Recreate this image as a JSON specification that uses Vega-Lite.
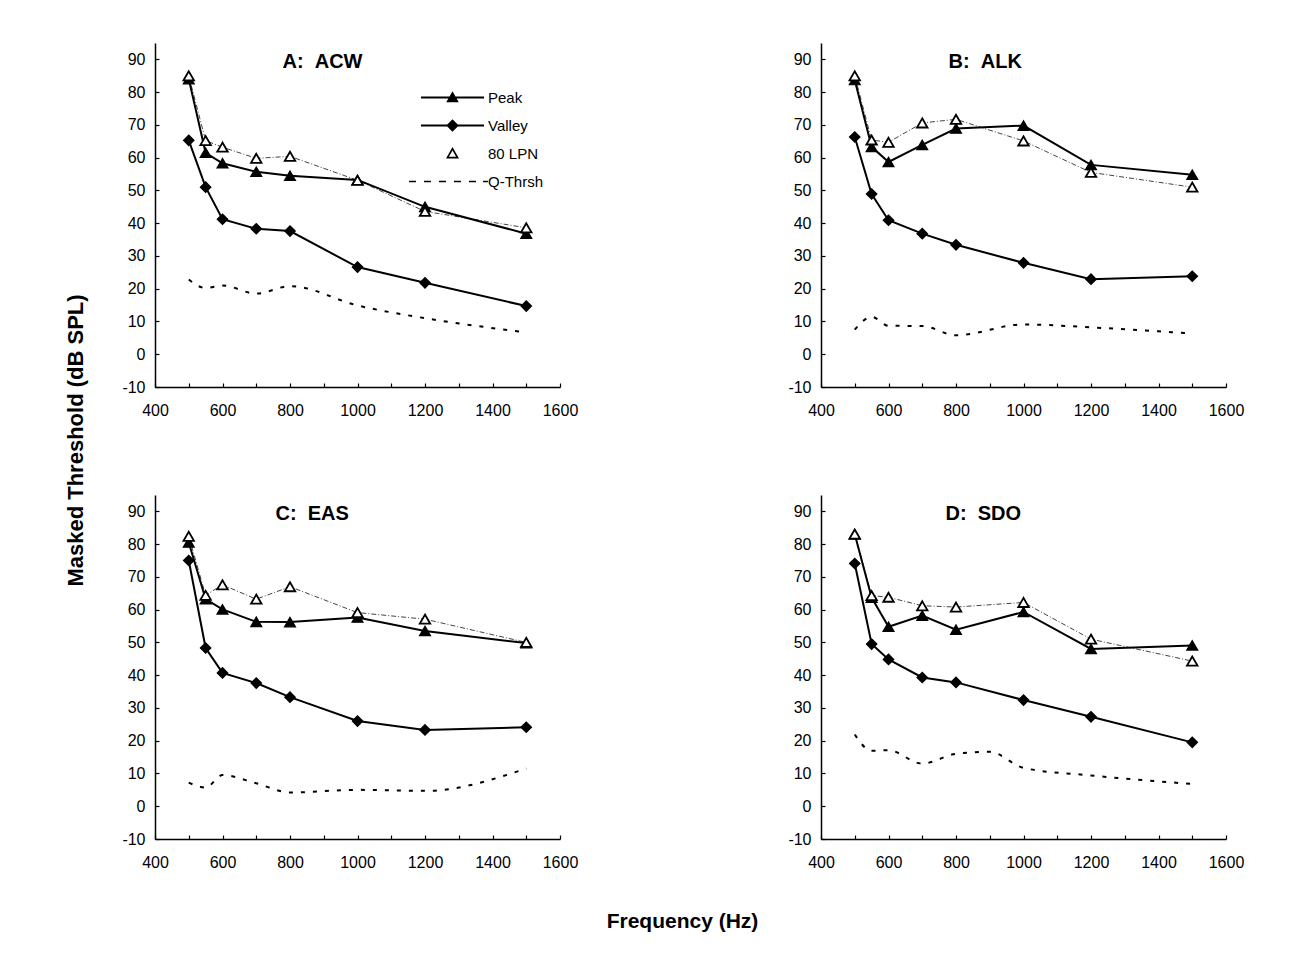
{
  "$schema": "https://vega.github.io/schema/vega-lite/v6.json",
  "padding": {"left": 64, "top": 43, "right": 5, "bottom": 5},
  "bounds": "flush",
  "columns": 2,
  "spacing": {"row": 108, "column": 261},
  "config": {
    "font": "Liberation Sans",
    "view": {"stroke": null},
    "axis": {"grid": false, "domainColor": "black", "domainWidth": 1.5, "tickColor": "black", "tickWidth": 1.2, "tickSize": -4, "labelColor": "black", "labelFont": "Liberation Sans", "labelFontSize": 16, "labelFlush": false, "labelOverlap": false, "titleFont": "Liberation Sans", "titleColor": "black", "titleFontWeight": "bold"}
  },
  "data": {"values": [
    {"panel":"A","series":"Q-Thrsh","freq":500,"db":22.8},{"panel":"A","series":"Q-Thrsh","freq":550,"db":20.2},{"panel":"A","series":"Q-Thrsh","freq":600,"db":21},{"panel":"A","series":"Q-Thrsh","freq":700,"db":18.5},{"panel":"A","series":"Q-Thrsh","freq":800,"db":20.8},{"panel":"A","series":"Q-Thrsh","freq":1000,"db":14.9},{"panel":"A","series":"Q-Thrsh","freq":1200,"db":11},{"panel":"A","series":"Q-Thrsh","freq":1500,"db":6.7},
    {"panel":"A","series":"Peak","freq":500,"db":84},{"panel":"A","series":"Peak","freq":550,"db":61.5},{"panel":"A","series":"Peak","freq":600,"db":58.3},{"panel":"A","series":"Peak","freq":700,"db":55.7},{"panel":"A","series":"Peak","freq":800,"db":54.5},{"panel":"A","series":"Peak","freq":1000,"db":53.2},{"panel":"A","series":"Peak","freq":1200,"db":45},{"panel":"A","series":"Peak","freq":1500,"db":36.8},
    {"panel":"A","series":"Valley","freq":500,"db":65.3},{"panel":"A","series":"Valley","freq":550,"db":51},{"panel":"A","series":"Valley","freq":600,"db":41.2},{"panel":"A","series":"Valley","freq":700,"db":38.3},{"panel":"A","series":"Valley","freq":800,"db":37.6},{"panel":"A","series":"Valley","freq":1000,"db":26.6},{"panel":"A","series":"Valley","freq":1200,"db":21.8},{"panel":"A","series":"Valley","freq":1500,"db":14.7},
    {"panel":"A","series":"80 LPN","freq":500,"db":85},{"panel":"A","series":"80 LPN","freq":550,"db":65.2},{"panel":"A","series":"80 LPN","freq":600,"db":63.2},{"panel":"A","series":"80 LPN","freq":700,"db":59.8},{"panel":"A","series":"80 LPN","freq":800,"db":60.4},{"panel":"A","series":"80 LPN","freq":1000,"db":53.1},{"panel":"A","series":"80 LPN","freq":1200,"db":43.6},{"panel":"A","series":"80 LPN","freq":1500,"db":38.6},

    {"panel":"B","series":"Q-Thrsh","freq":500,"db":7.5},{"panel":"B","series":"Q-Thrsh","freq":550,"db":11.4},{"panel":"B","series":"Q-Thrsh","freq":600,"db":8.7},{"panel":"B","series":"Q-Thrsh","freq":700,"db":8.6},{"panel":"B","series":"Q-Thrsh","freq":800,"db":5.8},{"panel":"B","series":"Q-Thrsh","freq":1000,"db":9.1},{"panel":"B","series":"Q-Thrsh","freq":1200,"db":8.2},{"panel":"B","series":"Q-Thrsh","freq":1500,"db":6.3},
    {"panel":"B","series":"Peak","freq":500,"db":83.7},{"panel":"B","series":"Peak","freq":550,"db":63.3},{"panel":"B","series":"Peak","freq":600,"db":58.7},{"panel":"B","series":"Peak","freq":700,"db":63.9},{"panel":"B","series":"Peak","freq":800,"db":68.9},{"panel":"B","series":"Peak","freq":1000,"db":69.8},{"panel":"B","series":"Peak","freq":1200,"db":57.8},{"panel":"B","series":"Peak","freq":1500,"db":54.8},
    {"panel":"B","series":"Valley","freq":500,"db":66.3},{"panel":"B","series":"Valley","freq":550,"db":48.9},{"panel":"B","series":"Valley","freq":600,"db":40.9},{"panel":"B","series":"Valley","freq":700,"db":36.8},{"panel":"B","series":"Valley","freq":800,"db":33.4},{"panel":"B","series":"Valley","freq":1000,"db":27.9},{"panel":"B","series":"Valley","freq":1200,"db":22.9},{"panel":"B","series":"Valley","freq":1500,"db":23.8},
    {"panel":"B","series":"80 LPN","freq":500,"db":85},{"panel":"B","series":"80 LPN","freq":550,"db":65.4},{"panel":"B","series":"80 LPN","freq":600,"db":64.7},{"panel":"B","series":"80 LPN","freq":700,"db":70.6},{"panel":"B","series":"80 LPN","freq":800,"db":71.7},{"panel":"B","series":"80 LPN","freq":1000,"db":65.1},{"panel":"B","series":"80 LPN","freq":1200,"db":55.5},{"panel":"B","series":"80 LPN","freq":1500,"db":51},

    {"panel":"C","series":"Q-Thrsh","freq":500,"db":7.2},{"panel":"C","series":"Q-Thrsh","freq":550,"db":5.7},{"panel":"C","series":"Q-Thrsh","freq":600,"db":9.5},{"panel":"C","series":"Q-Thrsh","freq":700,"db":7},{"panel":"C","series":"Q-Thrsh","freq":800,"db":4.2},{"panel":"C","series":"Q-Thrsh","freq":1000,"db":5},{"panel":"C","series":"Q-Thrsh","freq":1200,"db":4.7},{"panel":"C","series":"Q-Thrsh","freq":1500,"db":11.5},
    {"panel":"C","series":"Peak","freq":500,"db":80.5},{"panel":"C","series":"Peak","freq":550,"db":63.2},{"panel":"C","series":"Peak","freq":600,"db":60.1},{"panel":"C","series":"Peak","freq":700,"db":56.3},{"panel":"C","series":"Peak","freq":800,"db":56.2},{"panel":"C","series":"Peak","freq":1000,"db":57.6},{"panel":"C","series":"Peak","freq":1200,"db":53.5},{"panel":"C","series":"Peak","freq":1500,"db":49.8},
    {"panel":"C","series":"Valley","freq":500,"db":75},{"panel":"C","series":"Valley","freq":550,"db":48.3},{"panel":"C","series":"Valley","freq":600,"db":40.7},{"panel":"C","series":"Valley","freq":700,"db":37.6},{"panel":"C","series":"Valley","freq":800,"db":33.3},{"panel":"C","series":"Valley","freq":1000,"db":26},{"panel":"C","series":"Valley","freq":1200,"db":23.3},{"panel":"C","series":"Valley","freq":1500,"db":24.1},
    {"panel":"C","series":"80 LPN","freq":500,"db":82.4},{"panel":"C","series":"80 LPN","freq":550,"db":64.4},{"panel":"C","series":"80 LPN","freq":600,"db":67.6},{"panel":"C","series":"80 LPN","freq":700,"db":63.2},{"panel":"C","series":"80 LPN","freq":800,"db":67},{"panel":"C","series":"80 LPN","freq":1000,"db":59.1},{"panel":"C","series":"80 LPN","freq":1200,"db":57.1},{"panel":"C","series":"80 LPN","freq":1500,"db":50},

    {"panel":"D","series":"Q-Thrsh","freq":500,"db":21.9},{"panel":"D","series":"Q-Thrsh","freq":550,"db":16.9},{"panel":"D","series":"Q-Thrsh","freq":600,"db":17.1},{"panel":"D","series":"Q-Thrsh","freq":700,"db":13},{"panel":"D","series":"Q-Thrsh","freq":800,"db":16},{"panel":"D","series":"Q-Thrsh","freq":900,"db":16.6},{"panel":"D","series":"Q-Thrsh","freq":1000,"db":11.7},{"panel":"D","series":"Q-Thrsh","freq":1200,"db":9.4},{"panel":"D","series":"Q-Thrsh","freq":1500,"db":6.8},
    {"panel":"D","series":"Peak","freq":500,"db":83},{"panel":"D","series":"Peak","freq":550,"db":63.7},{"panel":"D","series":"Peak","freq":600,"db":54.8},{"panel":"D","series":"Peak","freq":700,"db":58.2},{"panel":"D","series":"Peak","freq":800,"db":53.9},{"panel":"D","series":"Peak","freq":1000,"db":59.3},{"panel":"D","series":"Peak","freq":1200,"db":48},{"panel":"D","series":"Peak","freq":1500,"db":49.1},
    {"panel":"D","series":"Valley","freq":500,"db":74.1},{"panel":"D","series":"Valley","freq":550,"db":49.5},{"panel":"D","series":"Valley","freq":600,"db":44.8},{"panel":"D","series":"Valley","freq":700,"db":39.3},{"panel":"D","series":"Valley","freq":800,"db":37.8},{"panel":"D","series":"Valley","freq":1000,"db":32.4},{"panel":"D","series":"Valley","freq":1200,"db":27.3},{"panel":"D","series":"Valley","freq":1500,"db":19.5},
    {"panel":"D","series":"80 LPN","freq":500,"db":83.1},{"panel":"D","series":"80 LPN","freq":550,"db":64.3},{"panel":"D","series":"80 LPN","freq":600,"db":63.8},{"panel":"D","series":"80 LPN","freq":700,"db":61.2},{"panel":"D","series":"80 LPN","freq":800,"db":60.8},{"panel":"D","series":"80 LPN","freq":1000,"db":62.2},{"panel":"D","series":"80 LPN","freq":1200,"db":51},{"panel":"D","series":"80 LPN","freq":1500,"db":44.3}
  ]},
  "concat": [
    {
      "width": 405, "height": 344,
      "transform": [{"filter": "datum.panel === 'A'"}],
      "encoding": {
        "x": {"field": "freq", "type": "quantitative", "scale": {"domain": [400, 1600], "nice": false, "zero": false}, "axis": {"values": [400,500,600,700,800,900,1000,1100,1200,1300,1400,1500,1600], "labelExpr": "datum.value % 200 === 0 ? '' + datum.value : ''", "labelPadding": 19, "title": "A:\u00a0\u00a0ACW", "titleFontSize": 20, "titleX": 127, "titleY": -320, "titleAlign": "left", "titleBaseline": "alphabetic", "titleAngle": 0}},
        "y": {"field": "db", "type": "quantitative", "scale": {"domain": [-10, 95], "nice": false, "zero": false}, "axis": {"values": [-10,0,10,20,30,40,50,60,70,80,90], "labelExpr": "'' + datum.value", "labelPadding": 14, "title": "Masked Threshold (dB SPL)", "titleFontSize": 22, "titleX": -80, "titleY": 397, "titleAngle": 270, "titleAlign": "center", "titleBaseline": "middle"}}
      },
      "layer": [
        {"transform": [{"filter": "datum.series === 'Q-Thrsh'"}], "mark": {"type": "line", "interpolate": "monotone", "color": "black", "strokeWidth": 2, "strokeDash": [4, 8]}},
        {"transform": [{"filter": "datum.series === '80 LPN'"}], "mark": {"type": "line", "color": "#444444", "strokeWidth": 1, "strokeDash": [5, 2, 1, 2]}},
        {"transform": [{"filter": "datum.series === 'Peak' || datum.series === 'Valley'"}], "mark": {"type": "line", "color": "black", "strokeWidth": 2}, "encoding": {"detail": {"field": "series"}}},
        {"transform": [{"filter": "datum.series === 'Peak'"}], "mark": {"type": "point", "shape": "triangle-up", "filled": true, "fill": "black", "stroke": "black", "strokeWidth": 1.2, "size": 120, "opacity": 1}},
        {"transform": [{"filter": "datum.series === 'Valley'"}], "mark": {"type": "point", "shape": "diamond", "filled": true, "fill": "black", "stroke": "black", "strokeWidth": 1.2, "size": 110, "opacity": 1}},
        {"transform": [{"filter": "datum.series === '80 LPN'"}], "mark": {"type": "point", "shape": "triangle-up", "filled": true, "fill": "white", "stroke": "black", "strokeWidth": 1.8, "size": 110, "opacity": 1}},
        {"transform": [{"filter": "false"}], "mark": {"type": "point", "filled": true, "fill": "black", "strokeWidth": 0, "opacity": 1},
         "encoding": {
           "shape": {"field": "series", "type": "nominal",
             "scale": {"domain": ["Peak", "Valley", "80 LPN", "Q-Thrsh"], "range": [
               "M-6.3,-0.2H6.3V0.2H-6.3ZM0,-1.25L1.25,0.95L-1.25,0.95Z",
               "M-6.3,-0.2H6.3V0.2H-6.3ZM0,-1.25L1.25,0L0,1.25L-1.25,0Z",
               "M0,-1.3L1.3,1L-1.3,1ZM0,-0.6L-0.72,0.65L0.72,0.65Z",
               "M-8.7,-0.16H-7.3V0.16H-8.7ZM-5.7,-0.16H-4.3V0.16H-5.7ZM-2.7,-0.16H-1.3V0.16H-2.7ZM0.3,-0.16H1.7V0.16H0.3ZM3.3,-0.16H4.7V0.16H3.3ZM6.1,-0.16H7.1V0.16H6.1Z"]},
             "legend": {"title": null, "orient": "none", "legendX": 290, "legendY": 47, "symbolSize": 100, "symbolStrokeWidth": 0, "labelOffset": 28, "labelFontSize": 15, "labelColor": "black", "labelFont": "Liberation Sans", "rowPadding": 12}}
         }}
      ]
    },
    {
      "width": 405, "height": 344,
      "transform": [{"filter": "datum.panel === 'B'"}],
      "encoding": {
        "x": {"field": "freq", "type": "quantitative", "scale": {"domain": [400, 1600], "nice": false, "zero": false}, "axis": {"values": [400,500,600,700,800,900,1000,1100,1200,1300,1400,1500,1600], "labelExpr": "datum.value % 200 === 0 ? '' + datum.value : ''", "labelPadding": 19, "title": null}},
        "y": {"field": "db", "type": "quantitative", "scale": {"domain": [-10, 95], "nice": false, "zero": false}, "axis": {"values": [-10,0,10,20,30,40,50,60,70,80,90], "labelExpr": "'' + datum.value", "labelPadding": 14, "title": "B:\u00a0\u00a0ALK", "titleFontSize": 20, "titleX": 127, "titleY": 24, "titleAngle": 0, "titleAlign": "left", "titleBaseline": "alphabetic"}}
      },
      "layer": [
        {"transform": [{"filter": "datum.series === 'Q-Thrsh'"}], "mark": {"type": "line", "interpolate": "monotone", "color": "black", "strokeWidth": 2, "strokeDash": [4, 8]}},
        {"transform": [{"filter": "datum.series === '80 LPN'"}], "mark": {"type": "line", "color": "#444444", "strokeWidth": 1, "strokeDash": [5, 2, 1, 2]}},
        {"transform": [{"filter": "datum.series === 'Peak' || datum.series === 'Valley'"}], "mark": {"type": "line", "color": "black", "strokeWidth": 2}, "encoding": {"detail": {"field": "series"}}},
        {"transform": [{"filter": "datum.series === 'Peak'"}], "mark": {"type": "point", "shape": "triangle-up", "filled": true, "fill": "black", "stroke": "black", "strokeWidth": 1.2, "size": 120, "opacity": 1}},
        {"transform": [{"filter": "datum.series === 'Valley'"}], "mark": {"type": "point", "shape": "diamond", "filled": true, "fill": "black", "stroke": "black", "strokeWidth": 1.2, "size": 110, "opacity": 1}},
        {"transform": [{"filter": "datum.series === '80 LPN'"}], "mark": {"type": "point", "shape": "triangle-up", "filled": true, "fill": "white", "stroke": "black", "strokeWidth": 1.8, "size": 110, "opacity": 1}}
      ]
    },
    {
      "width": 405, "height": 344,
      "transform": [{"filter": "datum.panel === 'C'"}],
      "encoding": {
        "x": {"field": "freq", "type": "quantitative", "scale": {"domain": [400, 1600], "nice": false, "zero": false}, "axis": {"values": [400,500,600,700,800,900,1000,1100,1200,1300,1400,1500,1600], "labelExpr": "datum.value % 200 === 0 ? '' + datum.value : ''", "labelPadding": 19, "title": "Frequency (Hz)", "titleFontSize": 21, "titleX": 527, "titleY": 82, "titleAlign": "center", "titleBaseline": "middle"}},
        "y": {"field": "db", "type": "quantitative", "scale": {"domain": [-10, 95], "nice": false, "zero": false}, "axis": {"values": [-10,0,10,20,30,40,50,60,70,80,90], "labelExpr": "'' + datum.value", "labelPadding": 14, "title": "C:\u00a0\u00a0EAS", "titleFontSize": 20, "titleX": 120, "titleY": 24, "titleAngle": 0, "titleAlign": "left", "titleBaseline": "alphabetic"}}
      },
      "layer": [
        {"transform": [{"filter": "datum.series === 'Q-Thrsh'"}], "mark": {"type": "line", "interpolate": "monotone", "color": "black", "strokeWidth": 2, "strokeDash": [4, 8]}},
        {"transform": [{"filter": "datum.series === '80 LPN'"}], "mark": {"type": "line", "color": "#444444", "strokeWidth": 1, "strokeDash": [5, 2, 1, 2]}},
        {"transform": [{"filter": "datum.series === 'Peak' || datum.series === 'Valley'"}], "mark": {"type": "line", "color": "black", "strokeWidth": 2}, "encoding": {"detail": {"field": "series"}}},
        {"transform": [{"filter": "datum.series === 'Peak'"}], "mark": {"type": "point", "shape": "triangle-up", "filled": true, "fill": "black", "stroke": "black", "strokeWidth": 1.2, "size": 120, "opacity": 1}},
        {"transform": [{"filter": "datum.series === 'Valley'"}], "mark": {"type": "point", "shape": "diamond", "filled": true, "fill": "black", "stroke": "black", "strokeWidth": 1.2, "size": 110, "opacity": 1}},
        {"transform": [{"filter": "datum.series === '80 LPN'"}], "mark": {"type": "point", "shape": "triangle-up", "filled": true, "fill": "white", "stroke": "black", "strokeWidth": 1.8, "size": 110, "opacity": 1}}
      ]
    },
    {
      "width": 405, "height": 344,
      "transform": [{"filter": "datum.panel === 'D'"}],
      "encoding": {
        "x": {"field": "freq", "type": "quantitative", "scale": {"domain": [400, 1600], "nice": false, "zero": false}, "axis": {"values": [400,500,600,700,800,900,1000,1100,1200,1300,1400,1500,1600], "labelExpr": "datum.value % 200 === 0 ? '' + datum.value : ''", "labelPadding": 19, "title": null}},
        "y": {"field": "db", "type": "quantitative", "scale": {"domain": [-10, 95], "nice": false, "zero": false}, "axis": {"values": [-10,0,10,20,30,40,50,60,70,80,90], "labelExpr": "'' + datum.value", "labelPadding": 14, "title": "D:\u00a0\u00a0SDO", "titleFontSize": 20, "titleX": 124, "titleY": 24, "titleAngle": 0, "titleAlign": "left", "titleBaseline": "alphabetic"}}
      },
      "layer": [
        {"transform": [{"filter": "datum.series === 'Q-Thrsh'"}], "mark": {"type": "line", "interpolate": "monotone", "color": "black", "strokeWidth": 2, "strokeDash": [4, 8]}},
        {"transform": [{"filter": "datum.series === '80 LPN'"}], "mark": {"type": "line", "color": "#444444", "strokeWidth": 1, "strokeDash": [5, 2, 1, 2]}},
        {"transform": [{"filter": "datum.series === 'Peak' || datum.series === 'Valley'"}], "mark": {"type": "line", "color": "black", "strokeWidth": 2}, "encoding": {"detail": {"field": "series"}}},
        {"transform": [{"filter": "datum.series === 'Peak'"}], "mark": {"type": "point", "shape": "triangle-up", "filled": true, "fill": "black", "stroke": "black", "strokeWidth": 1.2, "size": 120, "opacity": 1}},
        {"transform": [{"filter": "datum.series === 'Valley'"}], "mark": {"type": "point", "shape": "diamond", "filled": true, "fill": "black", "stroke": "black", "strokeWidth": 1.2, "size": 110, "opacity": 1}},
        {"transform": [{"filter": "datum.series === '80 LPN'"}], "mark": {"type": "point", "shape": "triangle-up", "filled": true, "fill": "white", "stroke": "black", "strokeWidth": 1.8, "size": 110, "opacity": 1}}
      ]
    }
  ]
}
